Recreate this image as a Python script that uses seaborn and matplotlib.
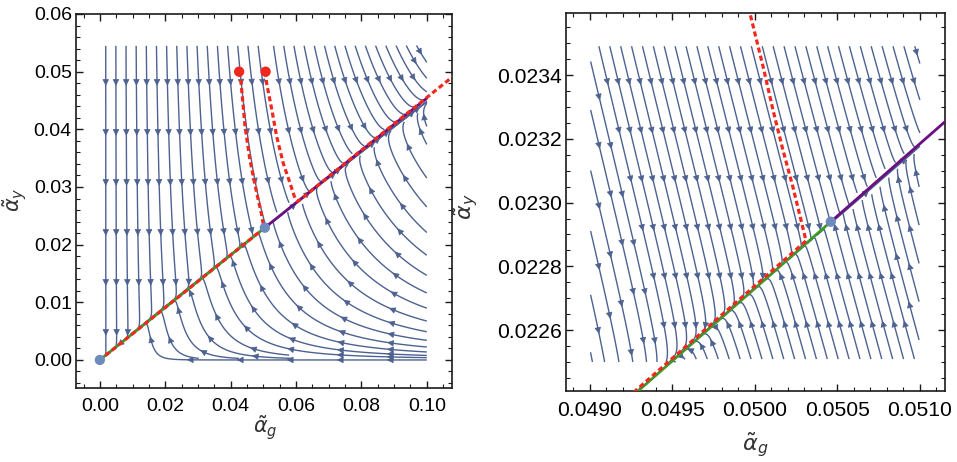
import numpy as np
import matplotlib
matplotlib.use("Agg")
import matplotlib.pyplot as plt
from matplotlib.ticker import MultipleLocator
from matplotlib.patches import FancyArrowPatch
import seaborn as sns
import pandas as pd

# ---- flow model (one-loop gauge-Yukawa beta functions, eps = 0.1) ----
eps = 0.1
coef_B = 4.0 / 3.0 * eps
coef_C = 25.0 + 26.0 / 3.0 * eps
coef_D = 2.0 * (11.0 / 2.0 + eps) ** 2
coef_E = 13.0 + 2.0 * eps
coef_F = 6.0

def flow(ag, ay):
    bg = ag ** 2 * (coef_B + coef_C * ag - coef_D * ay)
    by = ay * (coef_E * ay - coef_F * ag)
    return -bg, -by

# ---- values ----
fixed_x = [0.0, 0.05046]
fixed_y = [0.0, 0.02294]
start_x = [0.0426, 0.0507]
start_y = [0.0500, 0.0500]

red1_x = [0.0426, 0.0431, 0.0444, 0.0459, 0.0480, 0.0494, 0.04997, 0.05005,
          0.05011, 0.05017, 0.05023, 0.05031, 0.0]
red1_y = [0.0500, 0.0486, 0.0405, 0.0347, 0.0289, 0.0254, 0.023594, 0.023426,
          0.023290, 0.023165, 0.023050, 0.022880, 0.0]
red2_x = [0.0507, 0.0510, 0.0526, 0.0541, 0.0561, 0.0582, 0.0597, 0.0606, 0.112]
red2_y = [0.0500, 0.0480, 0.0434, 0.0387, 0.0341, 0.0306, 0.0280, 0.0275, 0.0510]
green_x = [0.0, 0.05046]
green_y = [0.0, 0.02294]
purple_x = [0.05046, 0.1000]
purple_y = [0.02294, 0.0454]

# stream-plot regions
left_region_x = (0.0, 0.10)
left_region_y = (0.0, 0.055)
right_region_x = (0.0490, 0.0510)
right_region_y = (0.0225, 0.0235)

# streamline seed positions
left_transect_x = np.arange(0.0175, 0.1001, 0.0043)
left_transect_offset = 0.0150
left_extra_seeds = [(0.1, 0.0405), (0.1, 0.0432), (0.0852, 0.0007), (0.0638, 0.0001)]
right_left_edge_y = [0.023452, 0.02330, 0.02311, 0.02292, 0.02272, 0.02254]

left_xticks = [0.00, 0.02, 0.04, 0.06, 0.08, 0.10]
left_xlabels = ["0.00", "0.02", "0.04", "0.06", "0.08", "0.10"]
left_yticks = [0.00, 0.01, 0.02, 0.03, 0.04, 0.05, 0.06]
left_ylabels = ["0.00", "0.01", "0.02", "0.03", "0.04", "0.05", "0.06"]
right_xticks = [0.0490, 0.0495, 0.0500, 0.0505, 0.0510]
right_xlabels = ["0.0490", "0.0495", "0.0500", "0.0505", "0.0510"]
right_yticks = [0.0226, 0.0228, 0.0230, 0.0232, 0.0234]
right_ylabels = ["0.0226", "0.0228", "0.0230", "0.0232", "0.0234"]

# ---- styling ----
sns.set_theme(style="white")
plt.rcParams["font.family"] = ["Liberation Sans", "DejaVu Sans"]
plt.rcParams["mathtext.fontset"] = "dejavusans"

stream_color = "#4d6290"
red = "#f0281e"
green = "#3c9a28"
purple = "#6a1080"
blue_pt = "#6d8bbd"

fig = plt.figure(figsize=(9.57, 4.62), dpi=100)
axL = fig.add_axes([0.0794, 0.1602, 0.3929, 0.8095])
axR = fig.add_axes([0.5911, 0.1537, 0.3963, 0.8175])

axL.set_xlim(-0.0073, 0.1077)
axL.set_ylim(-0.00486, 0.0600)
axR.set_xlim(0.048853, 0.051152)
axR.set_ylim(0.022409, 0.023594)


def chain_lines(lc):
    lines, cur = [], None
    for s in lc.get_segments():
        s = np.asarray(s)
        if len(s) > 2:
            if cur is not None:
                lines.append(np.array(cur))
                cur = None
            lines.append(s)
            continue
        if cur is not None and np.array_equal(cur[-1], s[0]):
            cur.append(s[1])
        else:
            if cur is not None:
                lines.append(np.array(cur))
            cur = [s[0], s[1]]
    if cur is not None:
        lines.append(np.array(cur))
    return lines


def add_arrows(ax, lc, first=40.0, step=50.0, size=10.0):
    inv = ax.transData.inverted()
    for L in chain_lines(lc):
        P = ax.transData.transform(L)
        d = np.hypot(*np.diff(P, axis=0).T)
        keep = np.concatenate([[True], d > 1e-9])
        P = P[keep]
        if len(P) < 2:
            continue
        s = np.concatenate([[0.0], np.cumsum(np.hypot(*np.diff(P, axis=0).T))])
        total = s[-1]
        if total < 14:
            continue
        if total > first + 6:
            pos_list = np.arange(first, total - 6, step)
        else:
            pos_list = [total * 0.55]
        for pos in pos_list:
            head = inv.transform((np.interp(pos, s, P[:, 0]), np.interp(pos, s, P[:, 1])))
            tail = inv.transform((np.interp(pos - 5, s, P[:, 0]), np.interp(pos - 5, s, P[:, 1])))
            ax.add_patch(FancyArrowPatch(tail, head, arrowstyle="-|>",
                                         mutation_scale=size, color=stream_color,
                                         lw=0.5, shrinkA=0, shrinkB=0, zorder=2))


def stream(ax, xr, yr, seeds, direction="forward", density=3.5):
    xs = np.linspace(xr[0], xr[1], 260)
    ys = np.linspace(yr[0], yr[1], 260)
    X, Y = np.meshgrid(xs, ys)
    U, V = flow(X, Y)
    before = set(id(p) for p in ax.patches)
    with np.errstate(all="ignore"):
        sp = ax.streamplot(X, Y, U, V, color=stream_color, linewidth=1.0,
                           arrowsize=0.5, density=density, zorder=1,
                           start_points=np.asarray(seeds, dtype=float),
                           integration_direction=direction,
                           minlength=0.01, maxlength=4.0)
    for p in list(ax.patches):
        if id(p) not in before:
            p.remove()
    add_arrows(ax, sp.lines)


# left panel streamlines
lx, ly = left_region_x, left_region_y
top_a = [(x, ly[1]) for x in np.arange(0.0018, 0.0500, 0.0031)]
top_b = [(x, ly[1]) for x in np.arange(0.0530, 0.0990, 0.0031)]
transect = [(x, 0.4546 * (x - left_transect_offset)) for x in left_transect_x]
stream(axL, lx, ly, top_a)
stream(axL, lx, ly, top_b)
stream(axL, lx, ly, transect + left_extra_seeds, direction="both")

# right panel streamlines
rx, ry = right_region_x, right_region_y
r_top = [(x, ry[1]) for x in np.arange(0.04905, 0.05098, 0.000066)]
r_left = [(rx[0], y) for y in right_left_edge_y]
r_bottom = [(x, ry[0]) for x in np.arange(0.04952, 0.05098, 0.000066)]
r_right = [(rx[1], y) for y in np.arange(0.02256, 0.02318, 0.00012)]
stream(axR, rx, ry, r_top + r_left)
stream(axR, rx, ry, r_bottom + r_right)


def draw_lines(ax):
    df_g = pd.DataFrame({"x": green_x, "y": green_y})
    df_p = pd.DataFrame({"x": purple_x, "y": purple_y})
    sns.lineplot(data=df_g, x="x", y="y", ax=ax, color=green, lw=2.0,
                 sort=False, estimator=None, zorder=3)
    sns.lineplot(data=df_p, x="x", y="y", ax=ax, color=purple, lw=2.0,
                 sort=False, estimator=None, zorder=3)
    for xs, ys in ((red1_x, red1_y), (red2_x, red2_y)):
        ax.plot(xs, ys, color=red, lw=2.3, linestyle=(0, (1.6, 1.0)),
                dash_capstyle="butt", zorder=4)


for ax in (axL, axR):
    draw_lines(ax)
    sns.scatterplot(x=fixed_x, y=fixed_y, ax=ax, color=blue_pt, s=55,
                    edgecolor="none", zorder=5)
    sns.scatterplot(x=start_x, y=start_y, ax=ax, color=red, s=55,
                    edgecolor="none", zorder=5)

axL.set_xlim(-0.0073, 0.1077)
axL.set_ylim(-0.00486, 0.0600)
axR.set_xlim(0.048853, 0.051152)
axR.set_ylim(0.022409, 0.023594)

axL.set_xticks(left_xticks, left_xlabels)
axL.set_yticks(left_yticks, left_ylabels)
axR.set_xticks(right_xticks, right_xlabels)
axR.set_yticks(right_yticks, right_ylabels)

axL.xaxis.set_minor_locator(MultipleLocator(0.005))
axL.yaxis.set_minor_locator(MultipleLocator(0.002))
axR.xaxis.set_minor_locator(MultipleLocator(0.0001))
axR.yaxis.set_minor_locator(MultipleLocator(0.00005))

for ax, fs in ((axL, 14), (axR, 15.2)):
    for sp in ax.spines.values():
        sp.set_visible(True)
        sp.set_color("#1a1a1a")
        sp.set_linewidth(1.2)
    ax.tick_params(which="both", direction="in", top=True, right=True,
                   bottom=True, left=True, colors="#1a1a1a", labelcolor="black")
    ax.tick_params(which="major", length=5, width=1.0, labelsize=fs)
    ax.tick_params(which="minor", length=3, width=0.8)
    ax.tick_params(axis="x", which="major", pad=7)
    ax.tick_params(axis="y", which="major", pad=3)
    ax.set_xlabel(r"$\tilde{\alpha}_g$", fontsize=fs + 1, color="#333333")
    ax.set_ylabel(r"$\tilde{\alpha}_y$", fontsize=fs + 1, color="#333333")
    ax.grid(False)
    ax.set_facecolor("white")

axL.xaxis.set_label_coords(0.503, -0.067)
axL.yaxis.set_label_coords(-0.125, 0.503)
axR.xaxis.set_label_coords(0.499, -0.103)
axR.yaxis.set_label_coords(-0.225, 0.487)

fig.savefig("out.png", dpi=100, facecolor="white")
